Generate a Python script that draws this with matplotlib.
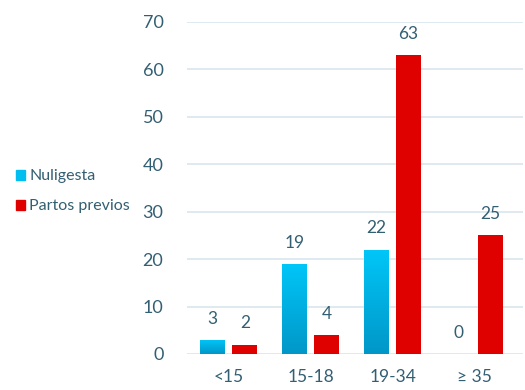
import numpy as np
import matplotlib.pyplot as plt
from matplotlib.patches import Patch
from matplotlib.colors import LinearSegmentedColormap

# data
categories = ["<15", "15-18", "19-34", "≥ 35"]
nuligesta = [3, 19, 22, 0]
partos_previos = [2, 4, 63, 25]
yticks = [0, 10, 20, 30, 40, 50, 60, 70]

txt_color = "#335f73"
grid_color = "#d8e6ee"
red = "#df0000"

plt.rcParams['font.family'] = ['Lato', 'DejaVu Sans']

fig = plt.figure(figsize=(5.25, 3.9), dpi=100)
ax = fig.add_axes([187 / 525, 1 - 354 / 390, (523 - 187) / 525, (354 - 22) / 390])

x = np.arange(len(categories))
w = 0.305
off = 0.195

# cyan bars get a vertical gradient, clipped to the bar shape
grad = np.linspace(0, 1, 100).reshape(-1, 1)
cyan_map = LinearSegmentedColormap.from_list("cy", ["#0097c8", "#00c6f8"])
bars1 = ax.bar(x - off, nuligesta, w, color="none", edgecolor="none", zorder=3)
for b in bars1:
    if b.get_height() <= 0:
        continue
    x0, y0 = b.get_x(), b.get_y()
    im = ax.imshow(grad, cmap=cyan_map, aspect="auto", origin="lower",
                   extent=[x0, x0 + b.get_width(), y0, y0 + b.get_height()], zorder=3)
    im.set_clip_path(b)
bars2 = ax.bar(x + off, partos_previos, w, color=red, zorder=3)

for xi, v in zip(x - off, nuligesta):
    ax.annotate(str(v), (xi, v), xytext=(0, 9.5), textcoords="offset points",
                ha="center", va="bottom", fontsize=12.5, color=txt_color)
for xi, v in zip(x + off, partos_previos):
    ax.annotate(str(v), (xi, v), xytext=(0, 9.5), textcoords="offset points",
                ha="center", va="bottom", fontsize=12.5, color=txt_color)

ax.set_xlim(-0.51, 3.59)
ax.set_ylim(0, 70)
ax.set_yticks(yticks)
ax.set_xticks(x)
ax.set_xticklabels(categories)
ax.yaxis.grid(True, color=grid_color, linewidth=1.2, zorder=0)
ax.set_axisbelow(True)
for s in ax.spines.values():
    s.set_visible(False)
ax.tick_params(axis="y", length=0, pad=17, labelsize=13, labelcolor=txt_color)
ax.tick_params(axis="x", length=0, pad=11, labelsize=12.5, labelcolor=txt_color)

handles = [Patch(color="#00bff0"), Patch(color=red)]
fig.legend(handles, ["Nuligesta", "Partos previos"], loc="upper left",
           bbox_to_anchor=(2 / 525, 1 - 155 / 390), frameon=False,
           fontsize=11.5, labelcolor=txt_color, handlelength=0.55,
           handleheight=0.55, handletextpad=0.25, labelspacing=1.0)

fig.savefig("out.png", dpi=100)
